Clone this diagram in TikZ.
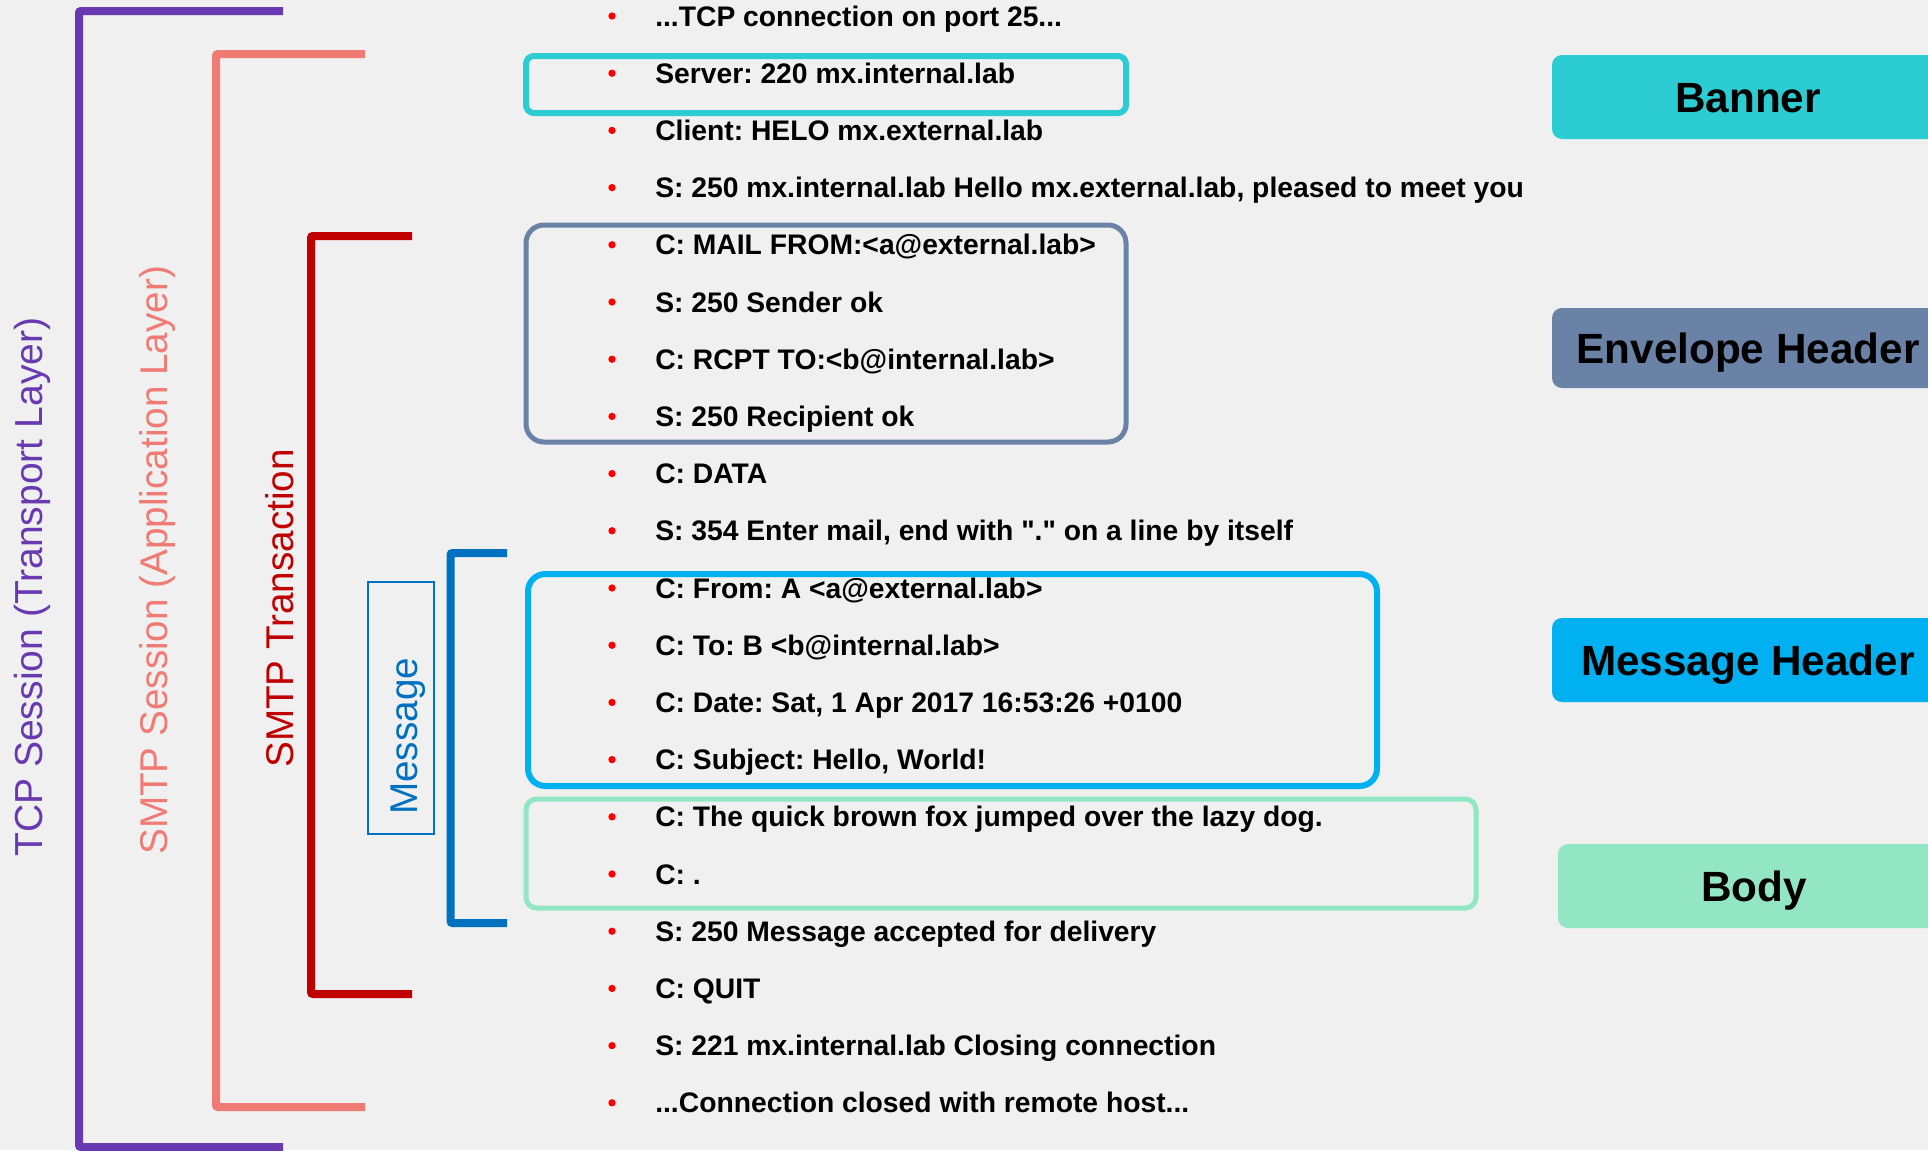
\documentclass[tikz,border=0pt]{standalone}
\usepackage{fontspec}
\setmainfont{Liberation Sans}
\setmonofont{Liberation Sans}
\frenchspacing
\definecolor{bg}{HTML}{F0F0F0}
\definecolor{cpurple}{HTML}{6839B0}
\definecolor{csalmon}{HTML}{EF7B74}
\definecolor{cdarkred}{HTML}{C00000}
\definecolor{cmsg}{HTML}{0070C0}
\definecolor{cbanner}{HTML}{2CCDD2}
\definecolor{cenv}{HTML}{6A82A6}
\definecolor{cmh}{HTML}{00B0F0}
\definecolor{cbody}{HTML}{92E6C4}
\definecolor{cbul}{HTML}{FF0000}
\newcommand\sq{{\ttfamily\symbol{34}}}
\begin{document}
\begin{tikzpicture}[x=0.75pt,y=-0.75pt,
  rowtext/.style={anchor=base west, inner sep=0pt, font=\fontsize{21.2}{25}\selectfont\bfseries},
  bul/.style={circle, fill=cbul, inner sep=0pt, minimum size=5.5pt},
  tag/.style={rounded corners=7.5pt, inner sep=0pt, minimum width=294pt, text height=22.8pt, text depth=0pt, font=\fontsize{31.7}{36}\selectfont\bfseries, text=black},
  side/.style={rotate=90, anchor=base west, inner sep=0pt, font=\fontsize{29}{34}\selectfont},
  brk/.style={line width=6pt, rounded corners=1.5pt},
  frame/.style={line width=#1}
]
\useasboundingbox (0,0) rectangle (1928,1150);
\clip (0,0) rectangle (1928,1150);
\fill[bg] (0,0) rectangle (1928,1150);

% brackets
\draw[brk, cpurple] (283,11) -- (79,11) -- (79,1147) -- (283,1147);
\draw[brk, csalmon] (365,54) -- (216,54) -- (216,1107) -- (365,1107);
\draw[brk, cdarkred] (412,236) -- (311,236) -- (311,994) -- (412,994);
\draw[brk, cmsg] (507,553) -- (450.5,553) -- (450.5,923) -- (507,923);

% side labels
\node[side, text=cpurple, font=\fontsize{29.3}{34}\selectfont] (tcp) at (42,857) {TCP Session (Transport Layer)};
\node[side, text=csalmon] (smtps) at (167,855) {SMTP Session (Application Layer)};
\node[side, text=cdarkred] (smtpt) at (293,768) {SMTP Transaction};
\draw[cmsg, line width=1.1pt] (368,582) rectangle (434,834);
\node[side, text=cmsg] (msg) at (417,815) {Message};

% outline frames
\draw[frame=4.5pt, cbanner, rounded corners=6pt] (526,56) rectangle (1126,113);
\draw[frame=3.75pt, cenv, rounded corners=13.5pt] (526,225) rectangle (1126,442);
\draw[frame=4.5pt, cmh, rounded corners=13pt] (528,574) rectangle (1377,786);
\draw[frame=3.75pt, cbody, rounded corners=8pt] (526,799) rectangle (1476,908);

% rows
\node[bul] (b1) at (612,16) {};    \node[rowtext] (l1) at (655,26) {...TCP connection on port 25...};
\node[bul] (b2) at (612,73.2) {};  \node[rowtext] (l2) at (655,83.2) {Server: 220 mx.internal.lab};
\node[bul] (b3) at (612,130.4) {}; \node[rowtext] (l3) at (655,140.4) {Client: HELO mx.external.lab};
\node[bul] (b4) at (612,187.6) {}; \node[rowtext] (l4) at (655,197.6) {S: 250 mx.internal.lab Hello mx.external.lab, pleased to meet you};
\node[bul] (b5) at (612,244.8) {}; \node[rowtext] (l5) at (655,254.8) {C: MAIL FROM:<a@external.lab>};
\node[bul] (b6) at (612,302) {};   \node[rowtext] (l6) at (655,312) {S: 250 Sender ok};
\node[bul] (b7) at (612,359.2) {}; \node[rowtext] (l7) at (655,369.2) {C: RCPT TO:<b@internal.lab>};
\node[bul] (b8) at (612,416.4) {}; \node[rowtext] (l8) at (655,426.4) {S: 250 Recipient ok};
\node[bul] (b9) at (612,473.6) {}; \node[rowtext] (l9) at (655,483.6) {C: DATA};
\node[bul] (b10) at (612,530.8) {}; \node[rowtext] (l10) at (655,540.8) {S: 354 Enter mail, end with \sq.\sq{} on a line by itself};
\node[bul] (b11) at (612,588) {};   \node[rowtext] (l11) at (655,598) {C: From: A <a@external.lab>};
\node[bul] (b12) at (612,645.2) {}; \node[rowtext] (l12) at (655,655.2) {C: To: B <b@internal.lab>};
\node[bul] (b13) at (612,702.4) {}; \node[rowtext] (l13) at (655,712.4) {C: Date: Sat, 1 Apr 2017 16:53:26 +0100};
\node[bul] (b14) at (612,759.6) {}; \node[rowtext] (l14) at (655,769.6) {C: Subject: Hello, World!};
\node[bul] (b15) at (612,816.8) {}; \node[rowtext] (l15) at (655,826.8) {C: The quick brown fox jumped over the lazy dog.};
\node[bul] (b16) at (612,874) {};   \node[rowtext] (l16) at (655,884) {C: .};
\node[bul] (b17) at (612,931.2) {}; \node[rowtext] (l17) at (655,941.2) {S: 250 Message accepted for delivery};
\node[bul] (b18) at (612,988.4) {}; \node[rowtext] (l18) at (655,998.4) {C: QUIT};
\node[bul] (b19) at (612,1045.6) {}; \node[rowtext] (l19) at (655,1055.6) {S: 221 mx.internal.lab Closing connection};
\node[bul] (b20) at (612,1102.8) {}; \node[rowtext] (l20) at (655,1112.8) {...Connection closed with remote host...};

% tags
\node[tag, fill=cbanner, minimum height=63pt] (banner) at (1748,97) {Banner};
\node[tag, fill=cenv, minimum height=60pt] (env) at (1748,348) {Envelope Header};
\node[tag, fill=cmh, minimum height=63pt] (mh) at (1748,660) {Message Header};
\node[tag, fill=cbody, minimum height=63pt] (body) at (1754,886) {Body};
\end{tikzpicture}
\end{document}
